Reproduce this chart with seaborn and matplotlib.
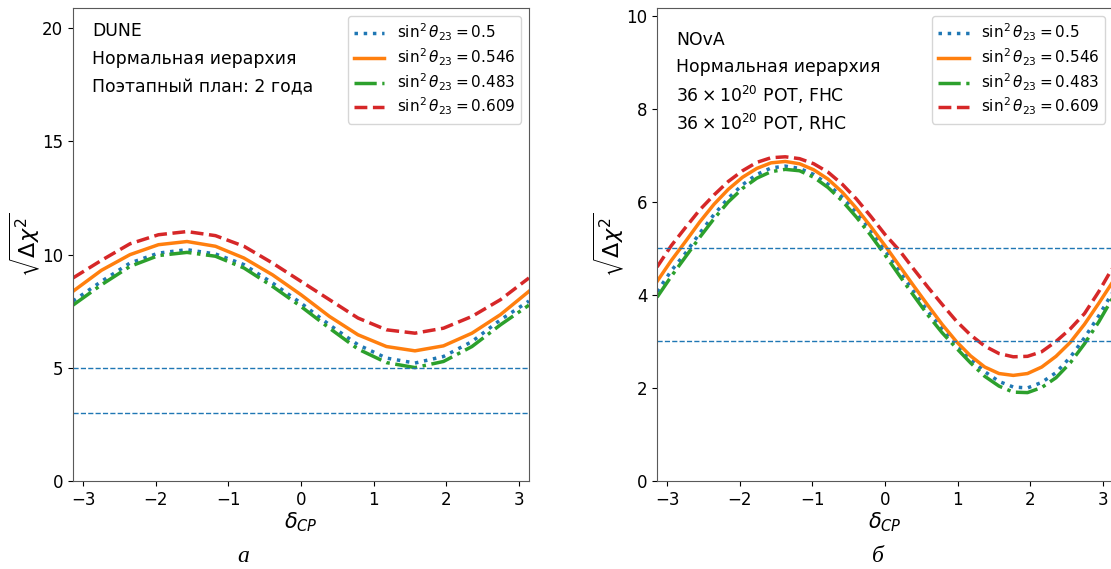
import numpy as np
import pandas as pd
import seaborn as sns
import matplotlib
matplotlib.use('Agg')
import matplotlib.pyplot as plt

# delta_CP grids
dcp_dune = np.linspace(-np.pi, np.pi, 17)
dcp_nova = np.linspace(-np.pi, np.pi, 33)

# DUNE, sqrt(dchi2)
dune_05 = [7.95, 8.82, 9.63, 10.07, 10.22, 10.03, 9.56, 8.75, 7.86, 6.90, 6.02, 5.43, 5.21, 5.50, 6.16, 7.12, 7.95]
dune_0546 = [8.38, 9.31, 10.00, 10.44, 10.58, 10.37, 9.85, 9.11, 8.23, 7.27, 6.46, 5.94, 5.75, 5.97, 6.53, 7.35, 8.38]
dune_0483 = [7.77, 8.67, 9.48, 9.96, 10.10, 9.93, 9.41, 8.60, 7.71, 6.75, 5.83, 5.23, 5.01, 5.28, 5.94, 6.90, 7.77]
dune_0609 = [8.97, 9.75, 10.48, 10.88, 11.02, 10.84, 10.37, 9.63, 8.82, 8.01, 7.20, 6.68, 6.53, 6.75, 7.27, 8.01, 8.97]

# NOvA
nova_05 = [4.07, 4.52, 4.90, 5.33, 5.73, 6.08, 6.37, 6.59, 6.73, 6.77, 6.72, 6.59, 6.38, 6.10, 5.77, 5.39, 4.96,
           4.52, 4.08, 3.65, 3.28, 2.95, 2.63, 2.35, 2.14, 2.02, 2.00, 2.12, 2.33, 2.66, 3.08, 3.55, 4.07]
nova_0546 = [4.29, 4.74, 5.15, 5.57, 5.95, 6.27, 6.53, 6.72, 6.84, 6.87, 6.82, 6.69, 6.49, 6.21, 5.86, 5.47, 5.06,
             4.63, 4.20, 3.78, 3.37, 3.00, 2.69, 2.45, 2.31, 2.27, 2.31, 2.45, 2.68, 2.98, 3.37, 3.82, 4.29]
nova_0483 = [3.95, 4.40, 4.82, 5.24, 5.64, 6.00, 6.29, 6.51, 6.65, 6.70, 6.67, 6.53, 6.31, 6.02, 5.67, 5.28, 4.86,
             4.42, 3.99, 3.57, 3.19, 2.86, 2.54, 2.25, 2.04, 1.91, 1.90, 2.01, 2.22, 2.54, 2.95, 3.42, 3.95]
nova_0609 = [4.60, 5.06, 5.45, 5.83, 6.15, 6.44, 6.67, 6.85, 6.95, 6.97, 6.93, 6.82, 6.64, 6.38, 6.06, 5.69, 5.30,
             4.96, 4.56, 4.17, 3.80, 3.44, 3.14, 2.90, 2.74, 2.67, 2.68, 2.78, 3.00, 3.27, 3.60, 4.07, 4.60]

labels = [r'$\sin^2\theta_{23} = 0.5$', r'$\sin^2\theta_{23} = 0.546$',
          r'$\sin^2\theta_{23} = 0.483$', r'$\sin^2\theta_{23} = 0.609$']
colors = ['tab:blue', 'tab:orange', 'tab:green', 'tab:red']
styles = [':', '-', '-.', '--']

dune_text = ['DUNE', 'Нормальная иерархия', 'Поэтапный план: 2 года']
nova_text = ['NOvA', 'Нормальная иерархия', r'$36\times10^{20}$ POT, FHC', r'$36\times10^{20}$ POT, RHC']

plt.rcParams['font.size'] = 12
plt.rcParams['mathtext.fontset'] = 'dejavusans'

fig = plt.figure(figsize=(11.11, 5.69), dpi=100)
ax1 = fig.add_axes([0.0657, 0.1547, 0.4104, 0.8313])
ax2 = fig.add_axes([0.5914, 0.1547, 0.4104, 0.8313])


def panel(ax, x, series, ylim, yticks, notes, y0, dy):
    for y, lab, c, ls in zip(series, labels, colors, styles):
        df = pd.DataFrame({'dcp': x, 'chi': y})
        sns.lineplot(data=df, x='dcp', y='chi', ax=ax, color=c, linestyle=ls,
                     linewidth=2.5, label=lab)
    ax.axhline(5, color='tab:blue', linestyle='--', linewidth=1)
    ax.axhline(3, color='tab:blue', linestyle='--', linewidth=1)
    ax.set_xlim(-np.pi, np.pi)
    ax.set_ylim(*ylim)
    ax.set_yticks(yticks)
    ax.set_xticks([-3, -2, -1, 0, 1, 2, 3])
    ax.set_xlabel(r'$\delta_{CP}$', fontsize=15, labelpad=1)
    ax.set_ylabel(r'$\sqrt{\Delta\chi^2}$', fontsize=16, labelpad=0)
    ax.tick_params(labelsize=12)
    for s in ax.spines.values():
        s.set_color('0.35')
    for i, t in enumerate(notes):
        ax.text(0.042, y0 - i * dy, t, transform=ax.transAxes, fontsize=12.4, va='center')
    ax.legend(loc='upper right', fontsize=11, labelspacing=0.22)


panel(ax1, dcp_dune, [dune_05, dune_0546, dune_0483, dune_0609], (0, 20.9),
      [0, 5, 10, 15, 20], dune_text, 0.952, 0.06)
panel(ax2, dcp_nova, [nova_05, nova_0546, nova_0483, nova_0609], (0, 10.17),
      [0, 2, 4, 6, 8, 10], nova_text, 0.933, 0.0586)

fig.text(243 / 1111, 1 - 557 / 569, 'а', fontsize=17, style='italic',
         family='Liberation Serif', ha='center', va='center')
fig.text(878 / 1111, 1 - 557 / 569, 'б', fontsize=17, style='italic',
         family='Liberation Serif', ha='center', va='center')

fig.savefig('out.png', dpi=100)
